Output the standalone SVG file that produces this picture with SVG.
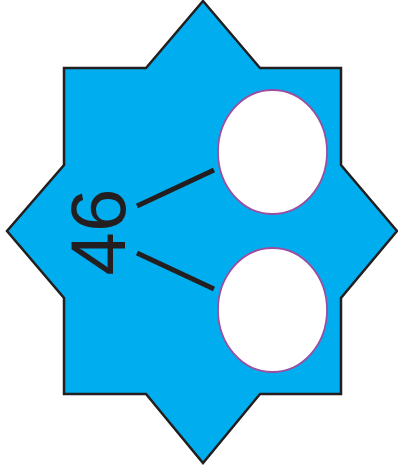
<svg xmlns="http://www.w3.org/2000/svg" width="398" height="470" viewBox="0 0 398 470">
<style>
.star{fill:#00AEEF;stroke:#231F20;stroke-width:2.5;stroke-linejoin:miter}
.hole{fill:#FFFFFF;stroke:#9B4FA0;stroke-width:1.8}
.conn{stroke:#231F20;stroke-width:5;fill:none}
.lbl{font-family:"Liberation Sans",Arial,sans-serif;font-size:78px;fill:#231F20}
</style>
<g id="star">
<polygon class="star" points="64,68 146,68 203,1 260,68 341,68 341,165 397,231 341,298 341,394 260,394 203,463 146,394 64,394 64,298 7,231 64,165"/>
</g>
<g id="label">
<text class="lbl" transform="translate(125,232) rotate(-90)" text-anchor="middle">46</text>
</g>
<g id="hole-top">
<ellipse class="hole" cx="272.5" cy="152" rx="54.5" ry="62"/>
</g>
<g id="hole-bottom">
<ellipse class="hole" cx="272.5" cy="310" rx="54.5" ry="62"/>
</g>
<g id="connectors">
<line class="conn" x1="137" y1="206" x2="214" y2="170"/>
<line class="conn" x1="137" y1="253" x2="214" y2="289"/>
</g>
</svg>
